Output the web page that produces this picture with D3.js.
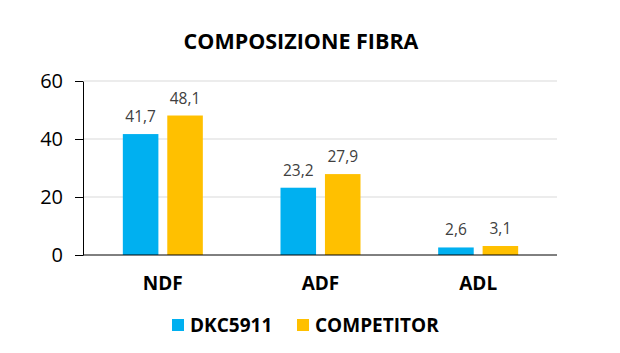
<!DOCTYPE html>
<html>
<head>
<meta charset="utf-8">
<script src="https://cdn.jsdelivr.net/npm/d3@7"></script>
<style>
  body { margin: 0; background: #fff; }
  text { font-family: "Open Sans", sans-serif; }
</style>
</head>
<body>
<div id="chart"></div>
<script>
const categories = ['NDF', 'ADF', 'ADL'];
const seriesNames = ['DKC5911', 'COMPETITOR'];
const dkcValues = [41.7, 23.2, 2.6];
const competitorValues = [48.1, 27.9, 3.1];
const yTicks = [0, 20, 40, 60];
const colors = ['#00B0F0', '#FFC000'];

const width = 620, height = 353;
const margin = { top: 81, right: 63, bottom: 98, left: 84 };

const svg = d3.select('#chart')
    .append('svg')
    .attr('width', width)
    .attr('height', height);

const x = d3.scaleBand()
    .domain(categories)
    .range([margin.left, width - margin.right])
    .padding(0);

const xInner = d3.scaleBand()
    .domain(seriesNames)
    .range([x.bandwidth() / 2 - 40, x.bandwidth() / 2 + 40])
    .paddingInner(0.2);

const y = d3.scaleLinear()
    .domain([0, 60])
    .range([height - margin.bottom, margin.top]);

// gridlines
svg.append('g')
    .selectAll('line')
    .data(yTicks.filter(d => d > 0))
    .join('line')
    .attr('x1', margin.left)
    .attr('x2', width - margin.right)
    .attr('y1', d => y(d))
    .attr('y2', d => y(d))
    .attr('stroke', '#D9D9D9')
    .attr('stroke-width', 1);

// y axis
const yAxis = svg.append('g')
    .attr('transform', `translate(${margin.left - 1},0)`)
    .call(d3.axisLeft(y).tickValues(yTicks).tickSize(8).tickPadding(12).tickSizeOuter(0));
yAxis.select('.domain').attr('stroke', '#000');
yAxis.selectAll('.tick line').attr('stroke', '#000');
yAxis.selectAll('.tick text')
    .attr('font-size', 20)
    .attr('fill', '#000')
    .style('font-family', '"Open Sans", sans-serif');

// bars
const rows = categories.map((c, i) => ({ cat: c, vals: [dkcValues[i], competitorValues[i]] }));

const groups = svg.append('g')
    .selectAll('g')
    .data(rows)
    .join('g')
    .attr('transform', d => `translate(${x(d.cat)},0)`);

groups.selectAll('rect')
    .data(d => d.vals.map((v, j) => ({ name: seriesNames[j], v, j })))
    .join('rect')
    .attr('x', d => xInner(d.name))
    .attr('width', xInner.bandwidth())
    .attr('y', d => y(d.v))
    .attr('height', d => y(0) - y(d.v))
    .attr('fill', d => colors[d.j]);

groups.selectAll('text.val')
    .data(d => d.vals.map((v, j) => ({ name: seriesNames[j], v, j })))
    .join('text')
    .attr('class', 'val')
    .attr('x', d => xInner(d.name) + xInner.bandwidth() / 2)
    .attr('y', d => y(d.v) - 12)
    .attr('text-anchor', 'middle')
    .attr('font-size', 15.5)
    .attr('fill', '#404040')
    .text(d => d3.format('.1f')(d.v).replace('.', ','));

// x axis line
svg.append('line')
    .attr('x1', margin.left - 1)
    .attr('x2', width - margin.right)
    .attr('y1', y(0))
    .attr('y2', y(0))
    .attr('stroke', '#000')
    .attr('stroke-width', 1);

// category labels
svg.append('g')
    .selectAll('text')
    .data(categories)
    .join('text')
    .attr('x', d => x(d) + x.bandwidth() / 2)
    .attr('y', 290)
    .attr('text-anchor', 'middle')
    .attr('font-size', 19)
    .attr('font-weight', 'bold')
    .attr('fill', '#000')
    .text(d => d);

// title
svg.append('text')
    .attr('x', 301)
    .attr('y', 49)
    .attr('text-anchor', 'middle')
    .attr('font-size', 21.5)
    .attr('font-weight', 'bold')
    .attr('fill', '#000')
    .text('COMPOSIZIONE FIBRA');

// legend
const legendX = [172, 297];
const legend = svg.append('g')
    .selectAll('g')
    .data(seriesNames)
    .join('g')
    .attr('transform', (d, i) => `translate(${legendX[i]},319)`);
legend.append('rect')
    .attr('width', 12)
    .attr('height', 12)
    .attr('fill', (d, i) => colors[i]);
legend.append('text')
    .attr('x', 18)
    .attr('y', 12.5)
    .attr('font-size', 19)
    .attr('font-weight', 'bold')
    .attr('fill', '#000')
    .text(d => d);
</script>
</body>
</html>
